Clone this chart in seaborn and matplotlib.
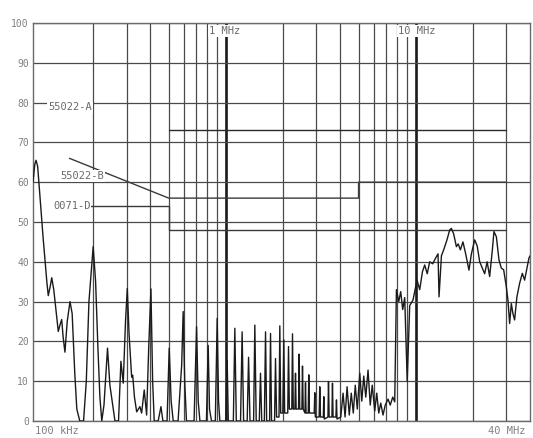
import matplotlib
matplotlib.use("Agg")
import matplotlib.pyplot as plt
from matplotlib.ticker import FixedLocator, NullFormatter
import pandas as pd
import seaborn as sns

# Conducted emission scan (frequency in MHz, level in dBuV)
trace_freq = [
    0.0964, 0.0985, 0.100, 0.102, 0.105, 0.109, 0.1115, 0.114, 0.116, 0.119,
    0.121, 0.124, 0.128, 0.131, 0.1335, 0.1365, 0.139, 0.142, 0.146, 0.151,
    0.155, 0.160, 0.164, 0.170, 0.178, 0.184, 0.190, 0.200, 0.206, 0.212,
    0.217, 0.222, 0.228, 0.238, 0.245, 0.2605, 0.272, 0.280, 0.288, 0.296,
    0.3025, 0.309, 0.319, 0.323, 0.330, 0.339, 0.3526, 0.360, 0.3715, 0.3825,
    0.392, 0.403, 0.4114, 0.4194, 0.440, 0.455, 0.466, 0.490, 0.503, 0.515,
    0.528, 0.560, 0.585, 0.5958, 0.607, 0.620, 0.680, 0.701, 0.715, 0.730,
    0.790, 0.807, 0.820, 0.840, 0.880, 0.900, 0.915, 0.930, 1.000, 1.016,
    1.030, 1.095, 1.115, 1.135, 1.195, 1.218, 1.240, 1.295, 1.317, 1.340,
    1.400, 1.421, 1.445, 1.500, 1.522, 1.545, 1.595, 1.618, 1.640, 1.700,
    1.719, 1.740, 1.805, 1.826, 1.850, 1.905, 1.924, 1.945, 1.995, 2.020,
    2.040, 2.118, 2.138, 2.160, 2.225, 2.244, 2.265, 2.310, 2.327, 2.345,
    2.415, 2.431, 2.450, 2.515, 2.533, 2.555, 2.610, 2.627, 2.645, 2.715,
    2.734, 2.755, 2.920, 2.941, 2.960, 3.100, 3.124, 3.150, 3.260, 3.280,
    3.300, 3.450, 3.472, 3.500, 3.620, 3.644, 3.670, 3.800, 3.825, 3.850,
    4.030, 4.144, 4.246, 4.350, 4.467, 4.577, 4.690, 4.805, 4.923, 5.075,
    5.199, 5.326, 5.457, 5.610, 5.761, 5.903, 6.084, 6.233, 6.387, 6.544,
    6.729, 6.911, 7.150, 7.343, 7.568, 7.753, 7.914, 8.140, 8.337, 8.543,
    8.751, 9.021, 9.298, 9.678, 9.879, 10.16, 10.50, 10.85, 11.15, 11.50,
    11.85, 12.29, 12.75, 13.11, 13.27, 13.66, 14.04, 14.61, 15.10, 15.41,
    15.85, 16.38, 16.74, 17.19, 17.74, 18.33, 19.08, 19.65, 20.45, 21.08,
    21.73, 22.39, 23.08, 23.79, 24.52, 25.34, 25.83, 26.60, 27.45, 28.26,
    29.06, 30.02, 30.61, 31.24, 31.89, 32.52, 33.19, 34.13, 35.27, 36.44,
    37.47, 38.39, 39.48, 40.0,
]
trace_level = [
    60, 64.5, 65.5, 64, 56, 46, 40.5, 35, 31.5, 34,
    36, 33, 27, 22.5, 24, 25.5, 21, 17.3, 25, 30,
    27, 12, 3, 0, 0, 10, 30, 43.8, 35, 18,
    6, 0, 4, 18.3, 9, 0, 0, 15, 9.5, 25,
    33.3, 22, 11, 11.5, 6, 2.3, 3.6, 2, 7.8, 1.5,
    18, 33.2, 10, 0, 0, 3.6, 0, 0, 18.3, 5,
    0, 0, 14, 27.5, 10, 0, 0, 23.7, 5, 0,
    0, 19, 3, 0, 0, 25.8, 5, 0, 0, 15.3,
    0, 0, 23.3, 0, 0, 22.4, 0, 0, 16, 0,
    0, 24.1, 0, 0, 12, 0, 0, 22.4, 0, 0,
    22, 0, 0, 15.7, 1, 1, 23.9, 2, 2, 20.4,
    2, 2, 18.7, 3, 3, 21.9, 3, 3, 12, 3,
    3, 16.8, 3, 3, 13.8, 3, 2, 9.6, 2, 2,
    11.6, 2, 2, 7.1, 1, 1, 8.6, 1, 1, 6.1,
    0.5, 1, 9.9, 1, 1, 9.5, 1, 1, 5.3, 0.5,
    1, 7, 1, 8.6, 1.5, 7, 2, 9, 3, 12,
    5, 11.3, 6, 12.8, 4, 9, 2.5, 7, 2, 4.5,
    1.5, 4, 5.5, 4, 6, 4.8, 33, 30, 32.5, 28,
    31, 10, 29, 30.4, 32.5, 35.4, 33, 37.5, 39.2, 37,
    40, 39.5, 41, 42, 31.2, 41.5, 43, 45.5, 48, 48.4,
    47, 43.8, 44.5, 43, 45, 42, 37.9, 42, 45.5, 44,
    40, 38.5, 37, 40, 36.3, 43, 47.6, 46.3, 40.5, 38.4,
    38, 33.7, 30.4, 24.5, 29.5, 27, 25.4, 31.2, 34.6, 37.1,
    35.4, 38, 40.9, 41.5,
]

# Limit lines
limit_a_freq = [0.5, 30]
limit_a_level = [73, 73]
limit_b_freq = [0.15, 0.5, 5, 5, 30]
limit_b_level = [66, 56, 56, 60, 60]
limit_d_freq = [0.15, 0.5, 0.5, 30]
limit_d_level = [54, 54, 48, 48]

y_ticks = list(range(0, 101, 10))
y_labels = [str(v) for v in y_ticks]
x_minor = [0.2, 0.3, 0.4, 0.5, 0.6, 0.7, 0.8, 0.9,
           2, 3, 4, 5, 6, 7, 8, 9, 20, 30]
x_major = [1, 10]

sns.set_style("white")
plt.rcParams["font.family"] = ["DejaVu Sans Mono", "DejaVu Sans"]

fig = plt.figure(figsize=(5.33, 4.38), dpi=100)
fig.patch.set_facecolor("white")
ax = fig.add_axes([33 / 533, 1 - 421 / 438, 497 / 533, 398 / 438])
ax.set_facecolor("white")

ax.set_xscale("log")
ax.set_xlim(0.0964, 40)
ax.set_ylim(0, 100)
ax.xaxis.set_major_locator(FixedLocator(x_major))
ax.xaxis.set_minor_locator(FixedLocator(x_minor))
ax.xaxis.set_major_formatter(NullFormatter())
ax.xaxis.set_minor_formatter(NullFormatter())
ax.set_yticks(y_ticks)
ax.set_yticklabels(y_labels)
ax.tick_params(axis="both", which="both", length=0)
ax.tick_params(axis="y", labelsize=7, labelcolor="#808080", pad=3)

ax.set_axisbelow(True)
ax.grid(which="major", axis="x", color="#1a1a1a", lw=1.9)
ax.grid(which="minor", axis="x", color="#4a4a4a", lw=0.9)
ax.grid(which="major", axis="y", color="#4a4a4a", lw=0.9)
for s in ax.spines.values():
    s.set_color("#6a6a6a")
    s.set_linewidth(1.0)

limits = pd.concat([
    pd.DataFrame({"f": limit_a_freq, "dB": limit_a_level, "lim": "A"}),
    pd.DataFrame({"f": limit_b_freq, "dB": limit_b_level, "lim": "B"}),
    pd.DataFrame({"f": limit_d_freq, "dB": limit_d_level, "lim": "D"}),
])
for name, col, lw in [("A", "#2a2a2a", 1.0), ("B", "#3a3a3a", 1.0), ("D", "#3a3a3a", 1.0)]:
    sub = limits[limits["lim"] == name]
    sns.lineplot(data=sub, x="f", y="dB", ax=ax, estimator=None, sort=False,
                 color=col, lw=lw, zorder=2)

scan = pd.DataFrame({"f": trace_freq, "dB": trace_level})
sns.lineplot(data=scan, x="f", y="dB", ax=ax, estimator=None, sort=False,
             color="#1a1a1a", lw=1.0, zorder=3)

ax.set_xlabel("")
ax.set_ylabel("")

lbl = dict(fontsize=7.5, color="#6a6a6a", va="center", ha="left", zorder=4)
box = dict(facecolor="white", edgecolor="none", pad=0.6)
ax.text(0.1157, 78.8, "55022-A", bbox=box, **lbl)
ax.text(0.1337, 61.6, "55022-B", bbox=box, **lbl)
ax.text(0.1229, 54.0, "0071-D", bbox=box, **lbl)
ax.text(0.814, 98.0, "1 MHz", bbox=box, **lbl)
ax.text(8.06, 98.0, "10 MHz", bbox=box, **lbl)

ax.text(0.005, -0.012, "100 kHz", transform=ax.transAxes, fontsize=7.5,
        color="#808080", ha="left", va="top")
ax.text(0.99, -0.012, "40 MHz", transform=ax.transAxes, fontsize=7.5,
        color="#808080", ha="right", va="top")

fig.savefig("out.png", dpi=100, facecolor="white")
